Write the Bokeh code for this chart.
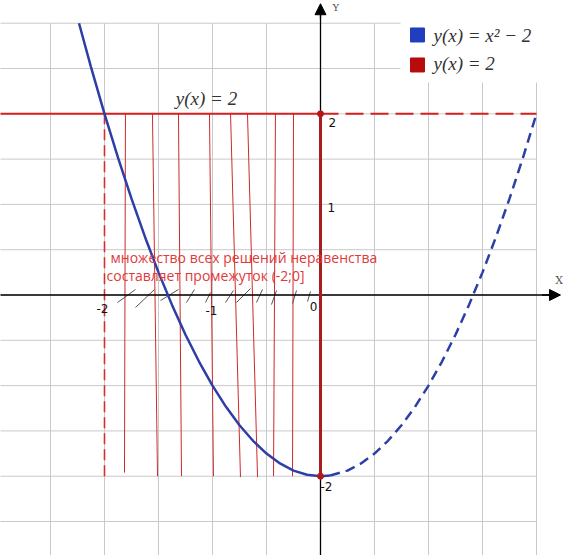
from bokeh.plotting import figure
from bokeh.models import Arrow, NormalHead, Range1d
from bokeh.core.properties import value
from bokeh.embed import file_html
from bokeh.resources import INLINE

# ---- data ----
grid_x = [-3.0, -2.5, -2.0, -1.5, -1.0, -0.5, 0.0, 0.5, 1.0, 1.5, 2.0]
grid_y = [-3.0, -2.5, -2.0, -1.5, -1.0, -0.5, 0.0, 0.5, 1.0, 1.5, 2.0, 2.5, 3.0]

curve_solid_x = [-2.236, -2.125, -2.0, -1.875, -1.75, -1.625, -1.5, -1.375, -1.25, -1.125,
                 -1.0, -0.875, -0.75, -0.625, -0.5, -0.375, -0.25, -0.125, 0.0, 0.09]
curve_solid_y = [3.0, 2.516, 2.0, 1.516, 1.063, 0.641, 0.25, -0.109, -0.438, -0.734,
                 -1.0, -1.234, -1.438, -1.609, -1.75, -1.859, -1.938, -1.984, -2.0, -1.992]
curve_dash_x = [0.09, 0.25, 0.375, 0.5, 0.625, 0.75, 0.875, 1.0, 1.125, 1.25,
                1.375, 1.5, 1.625, 1.75, 1.875, 2.0]
curve_dash_y = [-1.992, -1.938, -1.859, -1.75, -1.609, -1.438, -1.234, -1.0, -0.734, -0.438,
                -0.109, 0.25, 0.641, 1.063, 1.516, 2.0]

line2_value = 2.0
line2_solid_x = [-3.0, 0.0]
line2_dash_x = [0.0, 2.0]

interval_x = [-2.0, 0.0]
interval_y = [-2.0, 2.0]

fill_top_x = [-1.806, -1.556, -1.315, -1.028, -0.833, -0.676, -0.417, -0.25]
fill_bot_x = [-1.815, -1.509, -1.287, -0.991, -0.741, -0.583, -0.435, -0.259]
fill_bot_y = [-1.96, -2.0, -2.0, -2.0, -2.01, -2.01, -2.0, -2.0]

hatch_x0 = [-1.880, -1.713, -1.481, -1.241, -1.065, -0.880, -0.778, -0.593, -0.454, -0.259, -0.120]
hatch_y0 = [-0.083, -0.138, -0.061, -0.083, -0.083, -0.083, -0.083, -0.083, -0.105, -0.094, -0.072]
hatch_x1 = [-1.713, -1.537, -1.315, -1.167, -1.019, -0.806, -0.648, -0.537, -0.407, -0.222, -0.093]
hatch_y1 = [0.061, 0.061, 0.061, 0.061, 0.028, 0.050, 0.072, 0.061, 0.050, 0.050, 0.039]

x_tick_vals = [-2, -1, 0]
x_tick_labels = ["-2", "-1", "0"]
y_tick_vals = [2, 1, -2]
y_tick_labels = ["2", "1", "-2"]

legend_labels = ["y(x) = x² − 2", "y(x) = 2"]
line_label = "y(x) = 2"
note_lines = ["множество всех решений неравенства", "составляет промежуток (-2;0]"]

# ---- figure ----
W, H = 563, 555
p = figure(width=W, height=H, output_backend="svg", toolbar_location=None,
           x_range=Range1d(-2.963, 2.250), y_range=Range1d(-2.875, 3.2506),
           min_border=0, x_axis_type=None, y_axis_type=None)
p.outline_line_color = None
p.xgrid.visible = False
p.ygrid.visible = False
p.background_fill_color = "white"

GRID = "#c9c9c9"
# grid
p.segment(x0=grid_x, y0=[grid_y[0]] * len(grid_x), x1=grid_x, y1=[grid_y[-1]] * len(grid_x),
          line_color=GRID, line_width=1)
p.segment(x0=[grid_x[0]] * len(grid_y), y0=grid_y, x1=[grid_x[-1]] * len(grid_y), y1=grid_y,
          line_color=GRID, line_width=1)

# legend background
p.quad(left=[0.741], right=[2.4], bottom=[2.345], top=[3.4], fill_color="white", line_color=None)

# thin hand-drawn fill lines
p.segment(x0=fill_top_x, y0=[line2_value] * len(fill_top_x), x1=fill_bot_x, y1=fill_bot_y,
          line_color="#cf2a2a", line_width=1)
# hatch strokes on the axis
p.segment(x0=hatch_x0, y0=hatch_y0, x1=hatch_x1, y1=hatch_y1, line_color="#555555", line_width=1)

# dashed boundary at x=-2
p.line(x=[interval_x[0], interval_x[0]], y=interval_y, line_color="#d23030", line_width=1.6,
       line_dash="11 5")

# y = 2 line
p.line(x=line2_solid_x, y=[line2_value] * 2, line_color="#d81e1e", line_width=2)
p.line(x=line2_dash_x, y=[line2_value] * 2, line_color="#d81e1e", line_width=2, line_dash="18 7")

# axes
p.line(x=[-3.0, 2.2], y=[0, 0], line_color="black", line_width=1.3)
p.line(x=[0, 0], y=[-3.0, 3.2], line_color="black", line_width=1.3)
p.add_layout(Arrow(end=NormalHead(size=11, fill_color="black", line_color="black"),
                   x_start=2.05, y_start=0, x_end=2.222, y_end=0, line_color="black", line_width=1.3))
p.add_layout(Arrow(end=NormalHead(size=11, fill_color="black", line_color="black"),
                   x_start=0, y_start=3.05, x_end=0, y_end=3.215, line_color="black", line_width=1.3))

# parabola
p.line(x=curve_solid_x, y=curve_solid_y, line_color="#2d3fa6", line_width=2.5)
p.line(x=curve_dash_x, y=curve_dash_y, line_color="#2d3fa6", line_width=2.5, line_dash="10 6")

# interval segment at x=0
p.line(x=[interval_x[1], interval_x[1]], y=interval_y, line_color="#a81e1e", line_width=3)
p.scatter(x=[interval_x[1], interval_x[1]], y=interval_y, size=6, color="#b01818")

# tick labels
p.text(x=x_tick_vals, y=[0] * 3, text=x_tick_labels, text_font=value("DejaVu Sans"),
       text_font_size="12px", text_color="#111111", text_align="center", text_baseline="middle",
       x_offset=[-2, -1, -7], y_offset=[13, 15, 11])
p.text(x=[0] * 3, y=y_tick_vals, text=y_tick_labels, text_font=value("DejaVu Sans"),
       text_font_size="12px", text_color="#111111", text_align="left", text_baseline="middle",
       x_offset=[8, 7, 0], y_offset=[9, 3, 10])
p.text(x=[0], y=[3.25], text=["Y"], text_font=value("DejaVu Serif"), text_font_size="10px",
       text_color="#555555", text_align="left", text_baseline="top", x_offset=[12], y_offset=[1])
p.text(x=[2.2], y=[0], text=["X"], text_font=value("DejaVu Serif"), text_font_size="11px",
       text_color="#555555", text_align="center", text_baseline="middle", x_offset=[1], y_offset=[-15])

# label of the red line
p.text(x=[-1.056], y=[2.169], text=[line_label], text_font=value("Liberation Serif"),
       text_font_style="italic", text_font_size="19px", text_color="#333333",
       text_align="center", text_baseline="middle")

# note
p.text(x=[-1.944, -1.981], y=[0.414, 0.215], text=note_lines, text_font=value("Open Sans"),
       text_font_size="14px", text_color="#e03a3a", text_align="left", text_baseline="middle")

# legend
p.scatter(x=[0.898, 0.898], y=[2.870, 2.539], marker="square", size=14,
          color=["#1f3fbf", "#b80c0c"])
p.text(x=[1.046, 1.046], y=[2.864, 2.555], text=legend_labels, text_font=value("Liberation Serif"),
       text_font_style="italic", text_font_size="19px", text_color="#333333",
       text_align="left", text_baseline="middle")

open("out.html", "w").write(file_html(p, INLINE))
